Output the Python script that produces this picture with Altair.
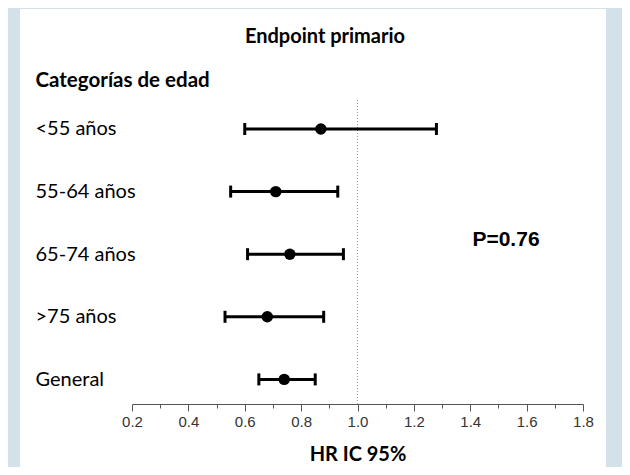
import altair as alt
import pandas as pd

# ---- data ----
categories = ["<55 años", "55-64 años", "65-74 años", ">75 años", "General"]
hr_values = [0.87, 0.71, 0.76, 0.68, 0.74]
ci_low = [0.60, 0.55, 0.61, 0.53, 0.65]
ci_high = [1.28, 0.93, 0.95, 0.88, 0.85]
major_ticks = [0.2, 0.4, 0.6, 0.8, 1.0, 1.2, 1.4, 1.6, 1.8]
minor_ticks = [0.3, 0.5, 0.7, 0.9, 1.1, 1.3, 1.5, 1.7]
reference_hr = [1.0]
chart_title = "Endpoint primario"
y_title = "Categorías de edad"
x_title = "HR IC 95%"
p_text = "P=0.76"

df = pd.DataFrame({"cat": categories, "hr": hr_values, "lo": ci_low, "hi": ci_high})
ref_df = pd.DataFrame({"ref": reference_hr})
one = pd.DataFrame({"k": [0]})

all_ticks = sorted(major_ticks + minor_ticks)

xscale = alt.Scale(domain=[0.2, 1.8], nice=False, zero=False)
xaxis = alt.Axis(
    values=all_ticks,
    labelExpr="round(datum.value*10) % 2 == 0 ? format(datum.value, '.1f') : ''",
    tickSize={"condition": {"test": "round(datum.value*10) % 2 == 0", "value": 7}, "value": 4},
    tickColor="#555", domainColor="#555", domainWidth=1, tickWidth=1,
    labelFont="Liberation Sans", labelFontSize=15, labelColor="#333", labelPadding=3,
    labelFlush=False, labelOverlap=False,
    grid=False, zindex=1,
    title=x_title, titleFont="Lato", titleFontSize=20, titleFontWeight="bold",
    titleColor="black", titleY=50, titleBaseline="middle",
)


def xenc(field):
    return alt.X(field, type="quantitative", scale=xscale, axis=xaxis)


yenc = alt.Y(
    "cat:N", sort=categories,
    scale=alt.Scale(type="point", padding=0.428, align=0.541),
    axis=alt.Axis(
        title=y_title, titleAngle=0, titleAlign="left", titleBaseline="middle",
        titleX=-97, titleY=-20, titleFont="Lato", titleFontSize=20.5,
        titleFontWeight="bold", titleColor="black",
        labelAlign="left", labelPadding=97, labelFont="Lato", labelFontSize=20,
        labelColor="black", labelBaseline="middle", labelLimit=200,
        ticks=False, tickSize=0, domain=False, grid=False, zindex=1,
    ),
)

panel = alt.Chart(one).mark_rect(color="white").encode(
    x=alt.value(-112), x2=alt.value(474), y=alt.value(-91), y2=alt.value(380)
)

ref_line = alt.Chart(ref_df).mark_rule(color="#999", strokeDash=[1, 2], strokeWidth=1).encode(
    x=xenc("ref")
)

bars = alt.Chart(df).mark_rule(color="black", strokeWidth=3).encode(
    x=xenc("lo"), x2="hi", y=yenc
)
cap_lo = alt.Chart(df).mark_tick(color="black", orient="vertical", size=12, thickness=3, opacity=1).encode(
    x=xenc("lo"), y=yenc
)
cap_hi = alt.Chart(df).mark_tick(color="black", orient="vertical", size=12, thickness=3, opacity=1).encode(
    x=xenc("hi"), y=yenc
)
points = alt.Chart(df).mark_circle(color="black", size=130, opacity=1).encode(
    x=xenc("hr"), y=yenc
)

title_txt = alt.Chart(one).mark_text(
    font="Lato", fontSize=20, fontWeight="bold", color="black", align="center", baseline="middle"
).encode(x=alt.value(193), y=alt.value(-63), text=alt.value(chart_title))

p_txt = alt.Chart(one).mark_text(
    font="Liberation Sans", fontSize=21, fontWeight="bold", color="black", align="center", baseline="middle"
).encode(x=alt.value(374), y=alt.value(140), text=alt.value(p_text))

chart = alt.layer(panel, ref_line, bars, cap_lo, cap_hi, points, title_txt, p_txt).properties(
    width=451, height=304,
    autosize=alt.AutoSizeParams(type="none"),
    padding={"left": 124, "top": 92, "right": 39, "bottom": 63},
    background="#d3e2e8",
).configure_view(stroke=None)

chart.save("out.html", embed_options={"renderer": "svg", "actions": False})
